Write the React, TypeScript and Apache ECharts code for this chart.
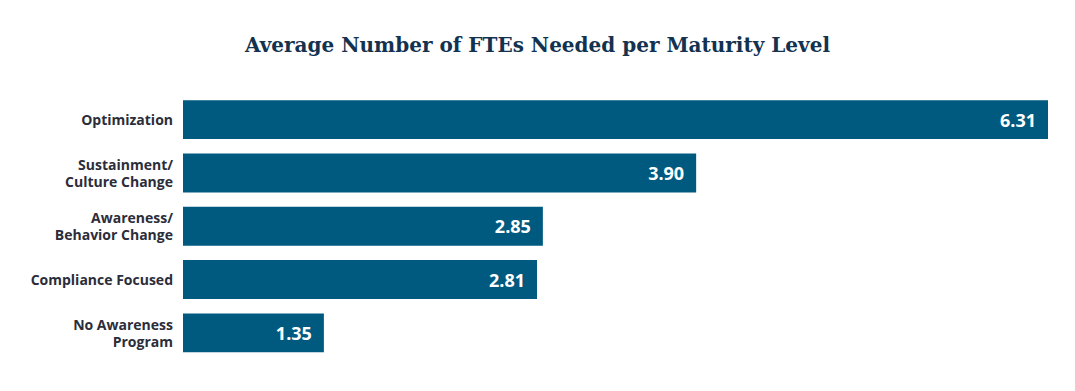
import React, { useEffect, useRef } from "react";
import * as echarts from "echarts";

const categories = [
  "No Awareness\nProgram",
  "Compliance Focused",
  "Awareness/\nBehavior Change",
  "Sustainment/\nCulture Change",
  "Optimization",
];
const values = [1.35, 2.81, 2.85, 3.9, 6.31];
const titleText = "Average Number of FTEs Needed per Maturity Level";

export default function App() {
  const ref = useRef<HTMLDivElement>(null);
  useEffect(() => {
    document.body.style.margin = "0";
    const chart = echarts.init(ref.current!, null, { renderer: "svg" });
    chart.setOption({
      animation: false,
      backgroundColor: "#ffffff",
      title: {
        text: titleText,
        left: "center",
        top: 30,
        textStyle: {
          fontFamily: "DejaVu Serif",
          fontWeight: "bold",
          fontSize: 20,
          color: "#13324f",
        },
      },
      grid: { left: 183, right: 27, top: 93, bottom: 31.5, containLabel: false },
      xAxis: {
        type: "value",
        min: 0.385,
        max: 6.31,
        show: false,
      },
      yAxis: {
        type: "category",
        data: categories,
        axisLine: { show: false },
        axisTick: { show: false },
        axisLabel: {
          margin: 10,
          fontFamily: "Open Sans",
          fontWeight: "bold",
          fontSize: 14,
          lineHeight: 17,
          color: "#2b2d3a",
          align: "right",
        },
      },
      series: [
        {
          type: "bar",
          data: values,
          barCategoryGap: "27%",
          itemStyle: { color: "#005a80" },
          label: {
            show: true,
            position: "insideRight",
            distance: 12,
            formatter: (p: any) => p.value.toFixed(2),
            color: "#ffffff",
            fontFamily: "Open Sans",
            fontWeight: "bold",
            fontSize: 18,
          },
        },
      ],
    });
    return () => chart.dispose();
  }, []);
  return <div ref={ref} style={{ width: 1075, height: 391 }} />;
}
